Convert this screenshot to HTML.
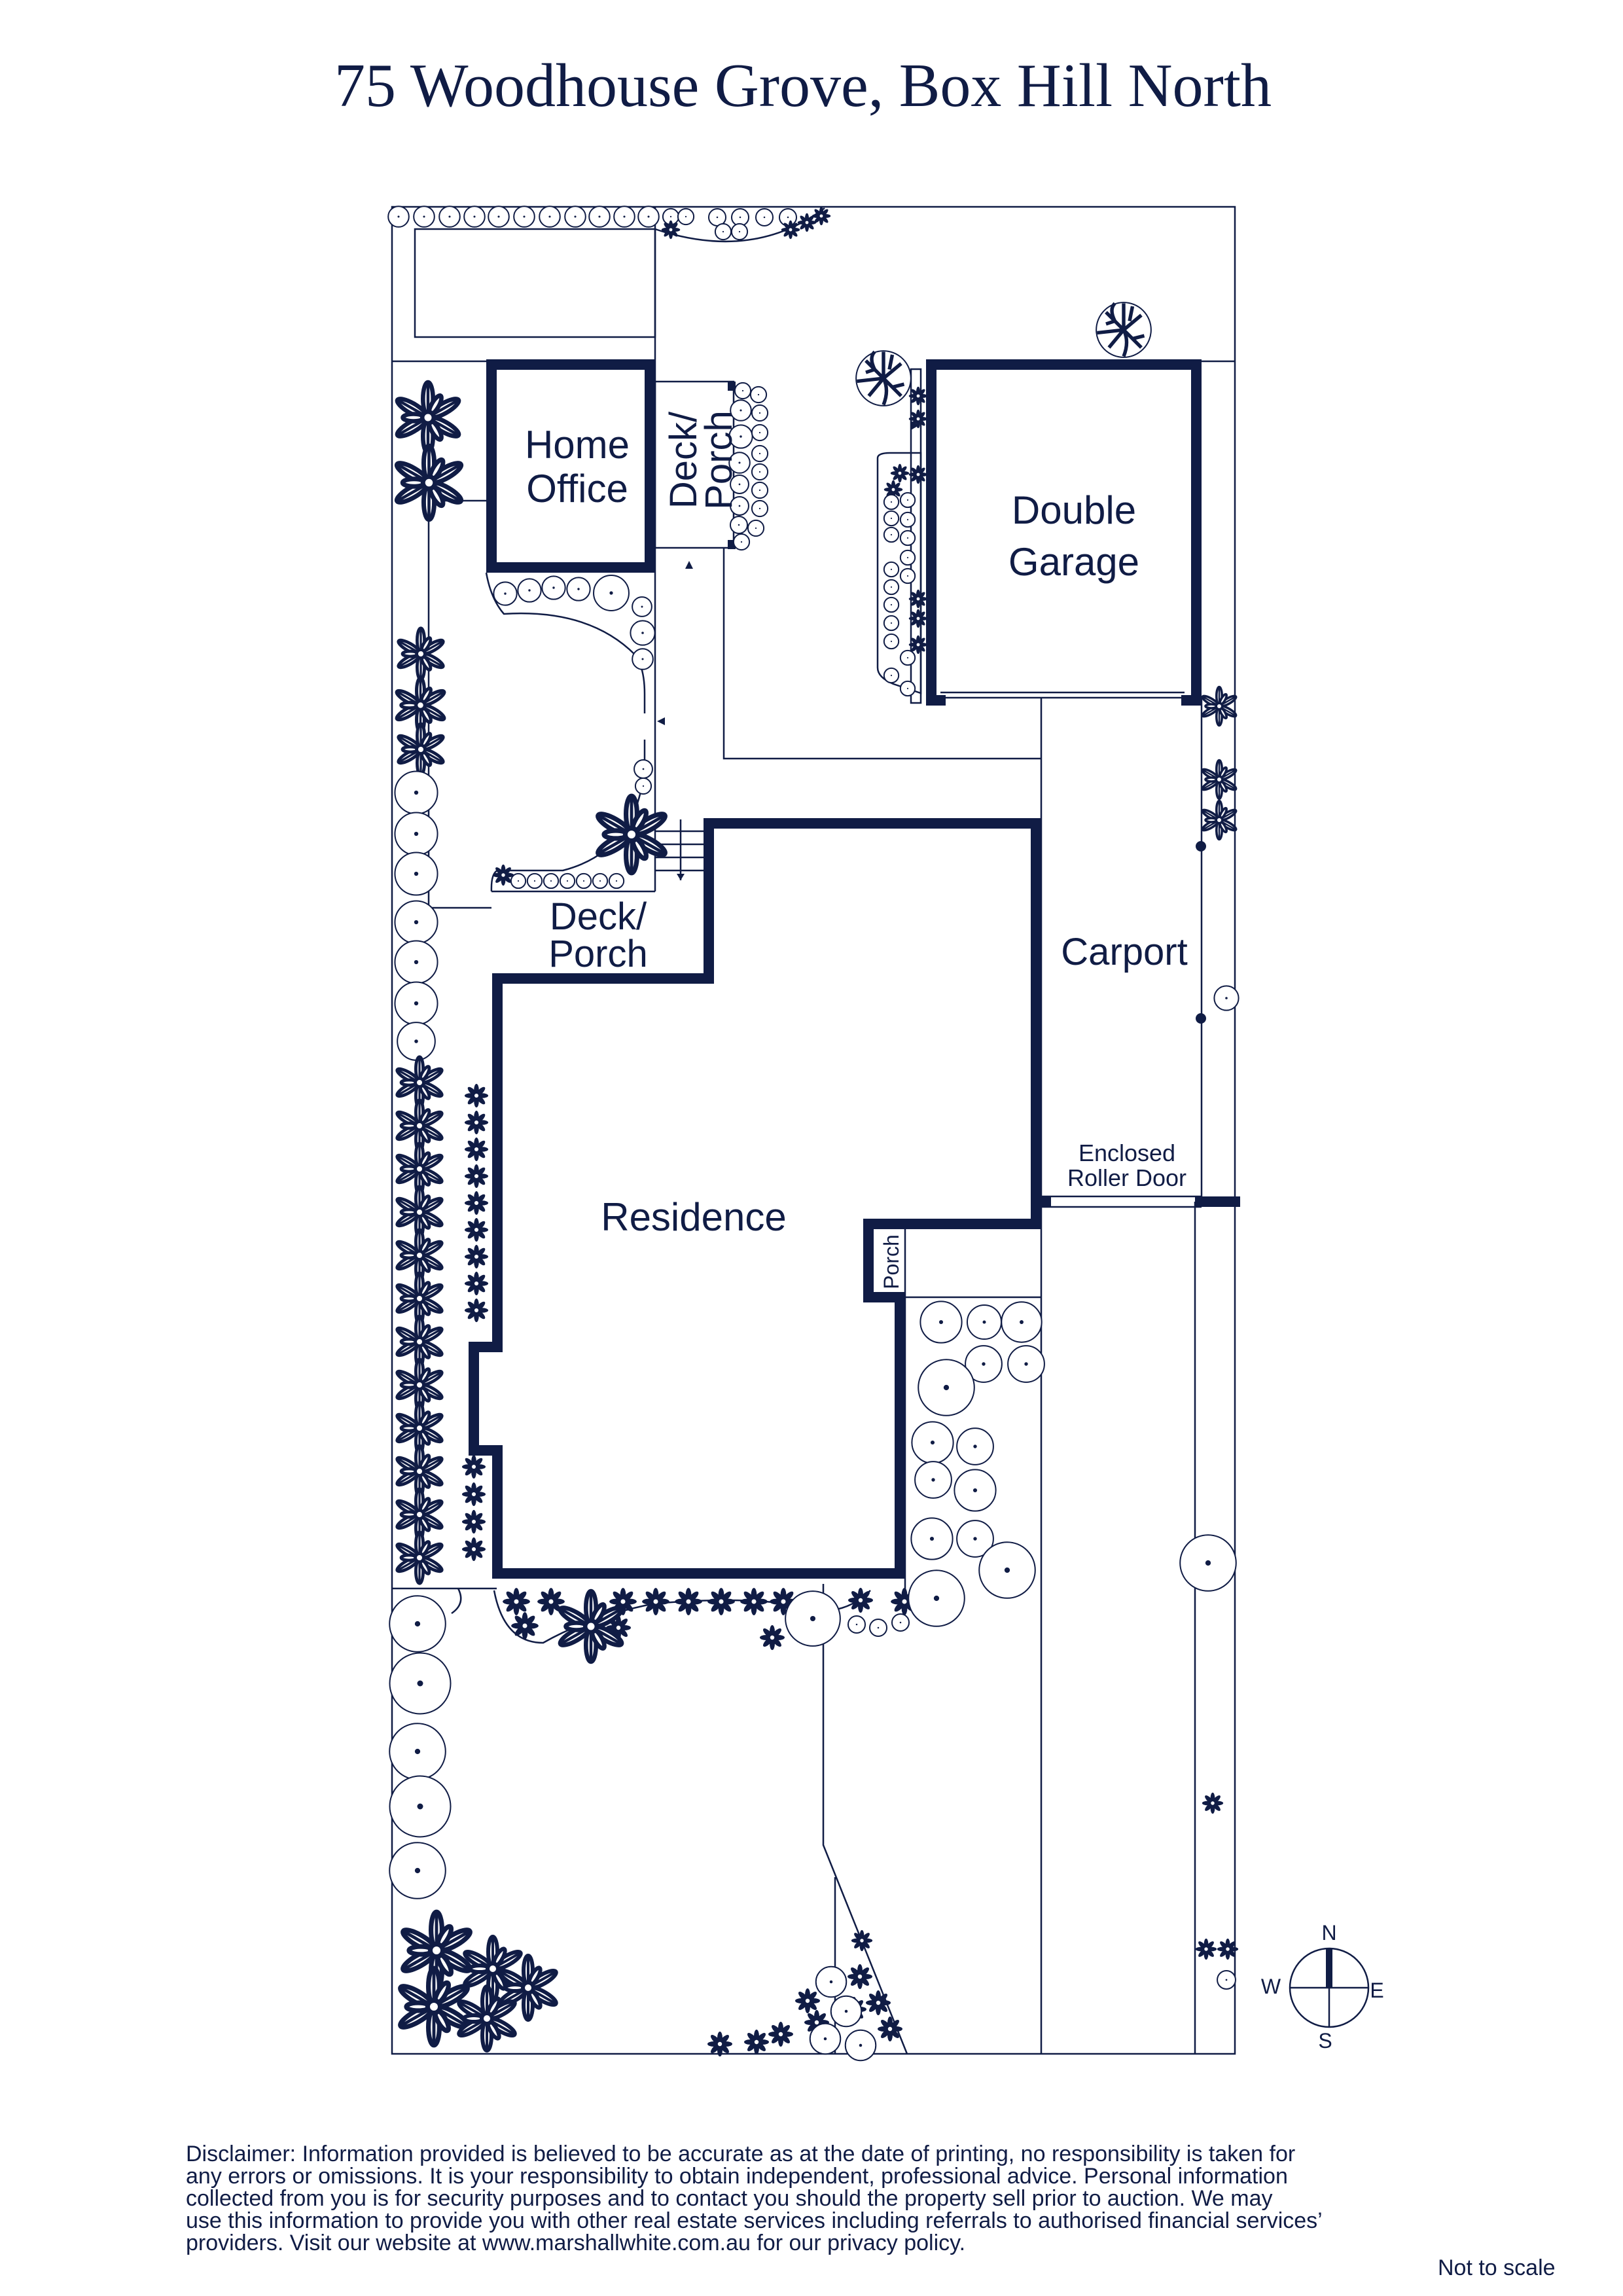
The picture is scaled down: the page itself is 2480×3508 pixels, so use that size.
<!DOCTYPE html>
<html><head><meta charset="utf-8"><style>
html,body{margin:0;padding:0;background:#fff}
body{width:2480px;height:3508px;overflow:hidden;position:relative}
svg{position:absolute;left:0;top:0}
</style></head><body>
<svg width="2480" height="3508" viewBox="0 0 2480 3508" xmlns="http://www.w3.org/2000/svg">
<defs>
<symbol id="c" viewBox="-10 -10 20 20" overflow="visible"><circle r="9.3" fill="#fff" stroke="#101c45" stroke-width="2" vector-effect="non-scaling-stroke"/><circle r="0.9" fill="#101c45"/></symbol>
<symbol id="d" viewBox="-10 -10 20 20" overflow="visible"><g fill="#101c45">
<ellipse rx="2" ry="5" cy="-4.5"/><ellipse rx="2" ry="5" cy="-4.5" transform="rotate(45)"/><ellipse rx="2" ry="5" cy="-4.5" transform="rotate(90)"/><ellipse rx="2" ry="5" cy="-4.5" transform="rotate(135)"/><ellipse rx="2" ry="5" cy="-4.5" transform="rotate(180)"/><ellipse rx="2" ry="5" cy="-4.5" transform="rotate(225)"/><ellipse rx="2" ry="5" cy="-4.5" transform="rotate(270)"/><ellipse rx="2" ry="5" cy="-4.5" transform="rotate(315)"/></g><circle r="1.6" fill="#fff"/></symbol>
<symbol id="s" viewBox="-10 -10 20 20" overflow="visible"><g fill="#fff" stroke="#101c45" stroke-width="1.2" vector-effect="non-scaling-stroke">
<ellipse rx="1.4" ry="4.6" cy="-5.2"/><ellipse rx="1.4" ry="4.6" cy="-5.2" transform="rotate(60)"/><ellipse rx="1.4" ry="4.6" cy="-5.2" transform="rotate(120)"/><ellipse rx="1.4" ry="4.6" cy="-5.2" transform="rotate(180)"/><ellipse rx="1.4" ry="4.6" cy="-5.2" transform="rotate(240)"/><ellipse rx="1.4" ry="4.6" cy="-5.2" transform="rotate(300)"/>
<ellipse rx="1" ry="3" cy="-4" transform="rotate(30)"/><ellipse rx="1" ry="3" cy="-4" transform="rotate(150)"/><ellipse rx="1" ry="3" cy="-4" transform="rotate(270)"/><circle r="1.6"/></g>
<g stroke="#101c45" stroke-width="0.8" vector-effect="non-scaling-stroke"><path d="M0 -1.5V-9.6M0 1.5V9.6M-1.3 -0.8L-8.3 -4.8M1.3 0.8L8.3 4.8M1.3 -0.8L8.3 -4.8M-1.3 0.8L-8.3 4.8"/></g></symbol>
<symbol id="t" viewBox="-10 -10 20 20" overflow="visible"><circle r="9.3" fill="#fff" stroke="#101c45" stroke-width="2" vector-effect="non-scaling-stroke"/><g stroke="#101c45" stroke-width="1.2" fill="none" vector-effect="non-scaling-stroke"><path d="M0 0L-6 -6M0 0L6 -5M0 0L-5 6M0 0L6 6M0 0L0 -9M-3 -3L-6 -2M3 3L7 2M0 0L-9 1M2 -3L3 -8M0 0Q2 4 0 9M-3 -3Q-5 -7 -3 -9"/></g></symbol>
</defs>

<text x="1227" y="162" font-family="Liberation Serif, serif" font-size="94" fill="#101c45" text-anchor="middle">75 Woodhouse Grove, Box Hill North</text>

<g stroke="#101c45" stroke-width="2.5" fill="none">
<rect x="599" y="316" width="1288" height="2822"/>
<rect x="634" y="350" width="367" height="165"/>
<path d="M599 552H1001M1836 552H1887"/>
<path d="M1001 316V1362"/>
<path d="M655 765V1387M655 765H743M655 1387H751"/>
<path d="M1001 350Q1150 400 1260 318"/>
<rect x="1001" y="583" width="120" height="254"/>
<path d="M1106 837V1159H1591"/>
<path d="M1591 1066V3138"/>
<path d="M1836 1066V1836"/>
<path d="M1826 1836V3138"/>
<path d="M1591 1828H1836M1591 1844H1836"/>
<path d="M1001 1270H1076M1001 1290H1076M1001 1310H1076M1001 1330H1076M1040 1252V1345"/>
<path d="M751 1362H1001"/>
<path d="M1383 1870V2430M1383 1982H1591"/>
<path d="M599 2427H759"/>
<path d="M700 2427Q712 2450 690 2465"/>
<path d="M1258 2420V2819L1386 3138M1276 2868V3138"/>
<path d="M743 875Q750 915 770 938Q900 930 970 1000Q985 1020 985 1060"/>
<path d="M985 1170Q975 1300 860 1330H760Q750 1335 751 1362"/>
<path d="M1341 700Q1341 692 1360 692H1407V1059L1365 1045Q1341 1035 1341 1020Z"/>
<path d="M755 2430Q770 2510 830 2510Q900 2470 1000 2450Q1120 2440 1200 2450Q1280 2480 1330 2430"/>
<path d="M985 1090V1060M985 1175V1130"/>
<rect x="1392" y="564" width="15" height="510"/>
</g>
<g stroke="#101c45" stroke-width="16" fill="none">
<rect x="751" y="557" width="242" height="310"/>
<path d="M1083 1258H1583V1870H1327V1982H1375V2404H760V2216H724V2058H760V1495H1083Z" stroke-linejoin="miter"/>
<path d="M1423 1066V557H1828V1075"/>
<path d="M1415 1070H1445M1805 1070H1836"/>
<path d="M1591 1836H1606M1826 1836H1895"/>
</g>
<path d="M1437 1066H1810M1437 1058H1810" stroke="#101c45" stroke-width="2.5"/>
<g fill="#101c45">
<rect x="1112" y="583" width="12" height="14"/><rect x="1112" y="825" width="12" height="14"/>
<path d="M1053 857l-6 12h12z"/><path d="M1004 1102l12 -6v12z"/>
<path d="M1040 1345l-6 -10h12z"/>
<path d="M1404 650l-12 -7v14z"/>
<circle cx="1835" cy="1293" r="8"/><circle cx="1835" cy="1556" r="8"/>
</g>

<g>
<use href="#c" x="592" y="314" width="34" height="34"/><use href="#c" x="631" y="314" width="34" height="34"/><use href="#c" x="670" y="314" width="34" height="34"/><use href="#c" x="708" y="314" width="34" height="34"/><use href="#c" x="745" y="314" width="34" height="34"/><use href="#c" x="784" y="314" width="34" height="34"/><use href="#c" x="823" y="314" width="34" height="34"/><use href="#c" x="862" y="314" width="34" height="34"/><use href="#c" x="899" y="314" width="34" height="34"/><use href="#c" x="937" y="314" width="34" height="34"/><use href="#c" x="974" y="314" width="34" height="34"/>
<use href="#c" x="1012" y="318" width="26" height="26"/><use href="#c" x="1035" y="318" width="26" height="26"/>
<use href="#c" x="1082" y="318" width="28" height="28"/><use href="#c" x="1117" y="318" width="28" height="28"/><use href="#c" x="1154" y="318" width="28" height="28"/><use href="#c" x="1190" y="318" width="28" height="28"/>
<use href="#c" x="1092" y="341" width="26" height="26"/><use href="#c" x="1117" y="341" width="26" height="26"/>
<use href="#d" x="1010" y="336" width="30" height="30"/><use href="#d" x="1193" y="336" width="30" height="30"/><use href="#d" x="1218" y="325" width="30" height="30"/><use href="#d" x="1240" y="315" width="30" height="30"/>
<use href="#t" x="1672" y="459" width="90" height="90"/><use href="#t" x="1305" y="533" width="90" height="90"/>
<use href="#s" x="599" y="583" width="110" height="110"/><use href="#s" x="598" y="680" width="115" height="115"/>
<use href="#s" x="603" y="959" width="80" height="80"/><use href="#s" x="600" y="1035" width="85" height="85"/><use href="#s" x="603" y="1105" width="80" height="80"/>
<use href="#c" x="601" y="1176" width="70" height="70"/><use href="#c" x="601" y="1239" width="70" height="70"/><use href="#c" x="601" y="1300" width="70" height="70"/><use href="#c" x="601" y="1374" width="70" height="70"/><use href="#c" x="601" y="1435" width="70" height="70"/><use href="#c" x="601" y="1498" width="70" height="70"/><use href="#c" x="605" y="1560" width="62" height="62"/>
</g>
<g>
<use href="#s" x="601" y="1614" width="80" height="80"/><use href="#s" x="601" y="1680" width="80" height="80"/><use href="#s" x="601" y="1746" width="80" height="80"/><use href="#s" x="601" y="1812" width="80" height="80"/><use href="#s" x="601" y="1878" width="80" height="80"/><use href="#s" x="601" y="1944" width="80" height="80"/><use href="#s" x="601" y="2010" width="80" height="80"/><use href="#s" x="601" y="2076" width="80" height="80"/><use href="#s" x="601" y="2142" width="80" height="80"/><use href="#s" x="601" y="2208" width="80" height="80"/><use href="#s" x="601" y="2274" width="80" height="80"/><use href="#s" x="601" y="2340" width="80" height="80"/>
<use href="#d" x="709" y="1655" width="38" height="38"/><use href="#d" x="709" y="1696" width="38" height="38"/><use href="#d" x="709" y="1737" width="38" height="38"/><use href="#d" x="709" y="1778" width="38" height="38"/><use href="#d" x="709" y="1819" width="38" height="38"/><use href="#d" x="709" y="1860" width="38" height="38"/><use href="#d" x="709" y="1901" width="38" height="38"/><use href="#d" x="709" y="1942" width="38" height="38"/><use href="#d" x="709" y="1983" width="38" height="38"/>
<use href="#d" x="705" y="2222" width="38" height="38"/><use href="#d" x="705" y="2264" width="38" height="38"/><use href="#d" x="705" y="2306" width="38" height="38"/><use href="#d" x="705" y="2348" width="38" height="38"/>
<use href="#c" x="592" y="2435" width="92" height="92"/><use href="#c" x="592" y="2522" width="100" height="100"/><use href="#c" x="592" y="2630" width="92" height="92"/><use href="#c" x="592" y="2710" width="100" height="100"/><use href="#c" x="592" y="2812" width="92" height="92"/>
<use href="#s" x="607" y="2920" width="120" height="120"/><use href="#s" x="703" y="2958" width="100" height="100"/><use href="#s" x="757" y="2987" width="100" height="100"/><use href="#s" x="603" y="3006" width="120" height="120"/><use href="#s" x="694" y="3034" width="100" height="100"/>
</g>
<g>
<use href="#d" x="1080" y="3103" width="40" height="40"/><use href="#d" x="1136" y="3100" width="40" height="40"/><use href="#d" x="1173" y="3088" width="40" height="40"/><use href="#d" x="1228" y="3070" width="40" height="40"/><use href="#d" x="1285" y="3050" width="40" height="40"/><use href="#d" x="1214" y="3037" width="40" height="40"/><use href="#d" x="1294" y="3000" width="40" height="40"/><use href="#d" x="1322" y="3040" width="40" height="40"/><use href="#d" x="1340" y="3080" width="40" height="40"/><use href="#d" x="1300" y="2948" width="34" height="34"/>
<use href="#c" x="1245" y="3003" width="50" height="50"/><use href="#c" x="1268" y="3048" width="50" height="50"/><use href="#c" x="1290" y="3100" width="50" height="50"/><use href="#c" x="1236" y="3090" width="50" height="50"/>
</g>
<g>
<use href="#d" x="767" y="2425" width="44" height="44"/><use href="#d" x="820" y="2425" width="44" height="44"/><use href="#d" x="930" y="2425" width="44" height="44"/><use href="#d" x="980" y="2425" width="44" height="44"/><use href="#d" x="1030" y="2425" width="44" height="44"/><use href="#d" x="1080" y="2425" width="44" height="44"/><use href="#d" x="1130" y="2425" width="44" height="44"/><use href="#d" x="1175" y="2425" width="44" height="44"/><use href="#d" x="1360" y="2425" width="44" height="44"/><use href="#d" x="1295" y="2425" width="40" height="40"/><use href="#d" x="780" y="2462" width="44" height="44"/><use href="#d" x="925" y="2467" width="40" height="40"/><use href="#d" x="1160" y="2482" width="40" height="40"/>
<use href="#s" x="848" y="2430" width="110" height="110"/>
<use href="#c" x="1197" y="2428" width="90" height="90"/>
<use href="#c" x="1295" y="2468" width="28" height="28"/><use href="#c" x="1328" y="2473" width="28" height="28"/><use href="#c" x="1362" y="2465" width="28" height="28"/>
</g>
<g>
<use href="#c" x="1404" y="1986" width="68" height="68"/><use href="#c" x="1476" y="1992" width="56" height="56"/><use href="#c" x="1528" y="1987" width="66" height="66"/><use href="#c" x="1473" y="2054" width="60" height="60"/><use href="#c" x="1538" y="2054" width="60" height="60"/><use href="#c" x="1400" y="2074" width="92" height="92"/><use href="#c" x="1391" y="2170" width="68" height="68"/><use href="#c" x="1460" y="2180" width="60" height="60"/><use href="#c" x="1396" y="2231" width="60" height="60"/><use href="#c" x="1456" y="2243" width="68" height="68"/><use href="#c" x="1390" y="2317" width="68" height="68"/><use href="#c" x="1460" y="2321" width="60" height="60"/><use href="#c" x="1493" y="2353" width="92" height="92"/><use href="#c" x="1385" y="2396" width="92" height="92"/>
<use href="#c" x="1854" y="1505" width="40" height="40"/><use href="#c" x="1800" y="2342" width="92" height="92"/><use href="#c" x="1859" y="3010" width="30" height="30"/>
<use href="#d" x="1836" y="2738" width="34" height="34"/><use href="#d" x="1826" y="2961" width="34" height="34"/><use href="#d" x="1859" y="2961" width="34" height="34"/>
<use href="#s" x="1833" y="1049" width="60" height="60"/><use href="#s" x="1833" y="1161" width="60" height="60"/><use href="#s" x="1833" y="1223" width="60" height="60"/>
<use href="#d" x="1388" y="590" width="30" height="30"/><use href="#d" x="1388" y="625" width="30" height="30"/><use href="#d" x="1388" y="710" width="30" height="30"/><use href="#d" x="1360" y="708" width="30" height="30"/><use href="#d" x="1350" y="733" width="30" height="30"/><use href="#d" x="1388" y="900" width="30" height="30"/><use href="#d" x="1388" y="930" width="30" height="30"/><use href="#d" x="1388" y="970" width="30" height="30"/>
<use href="#c" x="1350" y="755" width="24" height="24"/><use href="#c" x="1375" y="752" width="24" height="24"/><use href="#c" x="1350" y="780" width="24" height="24"/><use href="#c" x="1375" y="782" width="24" height="24"/><use href="#c" x="1350" y="805" width="24" height="24"/><use href="#c" x="1375" y="810" width="24" height="24"/><use href="#c" x="1375" y="840" width="24" height="24"/><use href="#c" x="1350" y="858" width="24" height="24"/><use href="#c" x="1375" y="868" width="24" height="24"/><use href="#c" x="1350" y="885" width="24" height="24"/><use href="#c" x="1350" y="912" width="24" height="24"/><use href="#c" x="1350" y="940" width="24" height="24"/><use href="#c" x="1350" y="968" width="24" height="24"/><use href="#c" x="1375" y="993" width="24" height="24"/><use href="#c" x="1350" y="1020" width="24" height="24"/><use href="#c" x="1375" y="1040" width="24" height="24"/>
<use href="#c" x="1122" y="584" width="26" height="26"/><use href="#c" x="1146" y="590" width="26" height="26"/><use href="#c" x="1115" y="610" width="34" height="34"/><use href="#c" x="1148" y="618" width="26" height="26"/><use href="#c" x="1113" y="648" width="38" height="38"/><use href="#c" x="1148" y="648" width="26" height="26"/><use href="#c" x="1113" y="690" width="34" height="34"/><use href="#c" x="1148" y="680" width="26" height="26"/><use href="#c" x="1148" y="708" width="26" height="26"/><use href="#c" x="1115" y="725" width="30" height="30"/><use href="#c" x="1148" y="736" width="26" height="26"/><use href="#c" x="1115" y="758" width="30" height="30"/><use href="#c" x="1148" y="764" width="26" height="26"/><use href="#c" x="1115" y="788" width="28" height="28"/><use href="#c" x="1142" y="794" width="26" height="26"/><use href="#c" x="1120" y="815" width="26" height="26"/>
<use href="#c" x="753" y="888" width="38" height="38"/><use href="#c" x="790" y="883" width="38" height="38"/><use href="#c" x="827" y="879" width="38" height="38"/><use href="#c" x="865" y="881" width="38" height="38"/><use href="#c" x="905" y="877" width="58" height="58"/><use href="#c" x="965" y="911" width="32" height="32"/><use href="#c" x="962" y="947" width="40" height="40"/><use href="#c" x="965" y="990" width="34" height="34"/>
<use href="#c" x="968" y="1160" width="30" height="30"/><use href="#c" x="970" y="1188" width="26" height="26"/>
<use href="#s" x="905" y="1215" width="120" height="120"/>
<use href="#d" x="752" y="1320" width="34" height="34"/>
<use href="#c" x="780" y="1334" width="24" height="24"/><use href="#c" x="805" y="1334" width="24" height="24"/><use href="#c" x="830" y="1334" width="24" height="24"/><use href="#c" x="855" y="1334" width="24" height="24"/><use href="#c" x="880" y="1334" width="24" height="24"/><use href="#c" x="905" y="1334" width="24" height="24"/><use href="#c" x="930" y="1334" width="24" height="24"/>
</g>

<g font-family="Liberation Sans, sans-serif" fill="#101c45" text-anchor="middle">
<text x="882" y="700" font-size="60">Home</text>
<text x="882" y="767" font-size="60">Office</text>
<text x="1641" y="800" font-size="60">Double</text>
<text x="1641" y="879" font-size="60">Garage</text>
<text x="1718" y="1474" font-size="58">Carport</text>
<text x="1060" y="1880" font-size="60">Residence</text>
<text x="914" y="1420" font-size="58">Deck/</text>
<text x="914" y="1477" font-size="58">Porch</text>
<text x="1722" y="1774" font-size="36">Enclosed</text>
<text x="1722" y="1812" font-size="36">Roller Door</text>
<text transform="translate(1064,703) rotate(-90)" font-size="58">Deck/</text>
<text transform="translate(1118,703) rotate(-90)" font-size="58">Porch</text>
<text transform="translate(1373,1928) rotate(-90)" font-size="32">Porch</text>
</g>

<g stroke="#101c45" fill="none" stroke-width="2.5">
<circle cx="2031" cy="3037" r="60"/>
<path d="M1971 3037H2091M2031 2977V3097"/>
</g>
<path d="M2026 2977L2036 2977L2036 3037L2026 3037Z" fill="#101c45"/>
<g font-family="Liberation Sans, sans-serif" fill="#101c45" font-size="32" text-anchor="middle">
<text x="2031" y="2964">N</text><text x="2025" y="3129">S</text><text x="1942" y="3046">W</text><text x="2104" y="3052">E</text>
</g>

<g font-family="Liberation Sans, sans-serif" fill="#101c45" font-size="34">
<text x="284" y="3302">Disclaimer: Information provided is believed to be accurate as at the date of printing, no responsibility is taken for</text>
<text x="284" y="3336">any errors or omissions. It is your responsibility to obtain independent, professional advice. Personal information</text>
<text x="284" y="3370">collected from you is for security purposes and to contact you should the property sell prior to auction. We may</text>
<text x="284" y="3404">use this information to provide you with other real estate services including referrals to authorised financial services’</text>
<text x="284" y="3438">providers. Visit our website at www.marshallwhite.com.au for our privacy policy.</text>
<text x="2197" y="3476">Not to scale</text>
</g>
</svg>
</body></html>
